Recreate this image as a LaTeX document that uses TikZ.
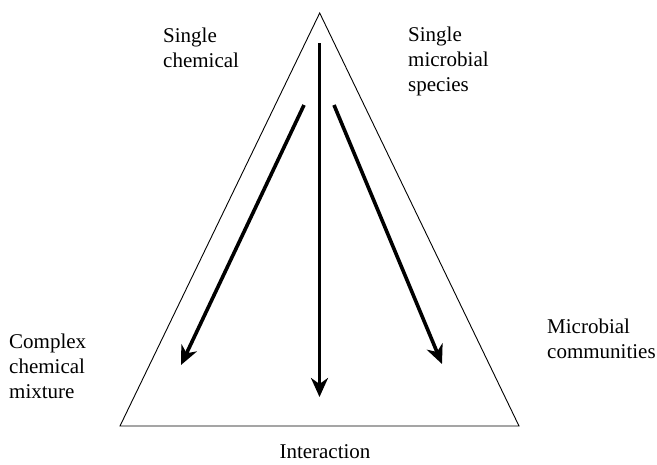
\documentclass[tikz,border=0pt]{standalone}
\usepackage{fontspec}
\setmainfont{Liberation Serif}
\usetikzlibrary{arrows.meta}
\begin{document}
\begin{tikzpicture}[x=1pt,y=-1pt,
  lbl/.style={inner sep=0pt,align=left,anchor=north west,font=\fontsize{21}{25}\selectfont},
  edge/.style={line width=0.9pt,line join=miter},
  flow/.style={line width=3.6pt,-{Stealth[length=19pt,width=17pt,inset=6pt]}}]
\useasboundingbox (0,0) rectangle (657,464);
% triangle corners
\coordinate (apex) at (319.7,13);
\coordinate (bl) at (120,426);
\coordinate (br) at (519,426);
\draw[edge] (apex) -- (br) -- (bl) -- cycle;
% arrows
\coordinate (ms) at (319.5,43);
\coordinate (me) at (319.5,397);
\coordinate (ls) at (304,105);
\coordinate (le) at (181,365);
\coordinate (rs) at (334,105);
\coordinate (re) at (442,364);
\draw[flow] (ms) -- (me);
\draw[flow] (ls) -- (le);
\draw[flow] (rs) -- (re);
% labels
\node[lbl] (sc) at (163,27.5) {Single\\chemical};
\node[lbl] (sm) at (408,26.5) {Single\\microbial\\species};
\node[lbl] (cm) at (9,333.5) {Complex\\chemical\\mixture};
\node[lbl] (mc) at (547,318.5) {Microbial\\communities};
\node[inner sep=0pt,anchor=base,font=\fontsize{21}{25}\selectfont] (in) at (325,458) {Interaction};
\end{tikzpicture}
\end{document}
